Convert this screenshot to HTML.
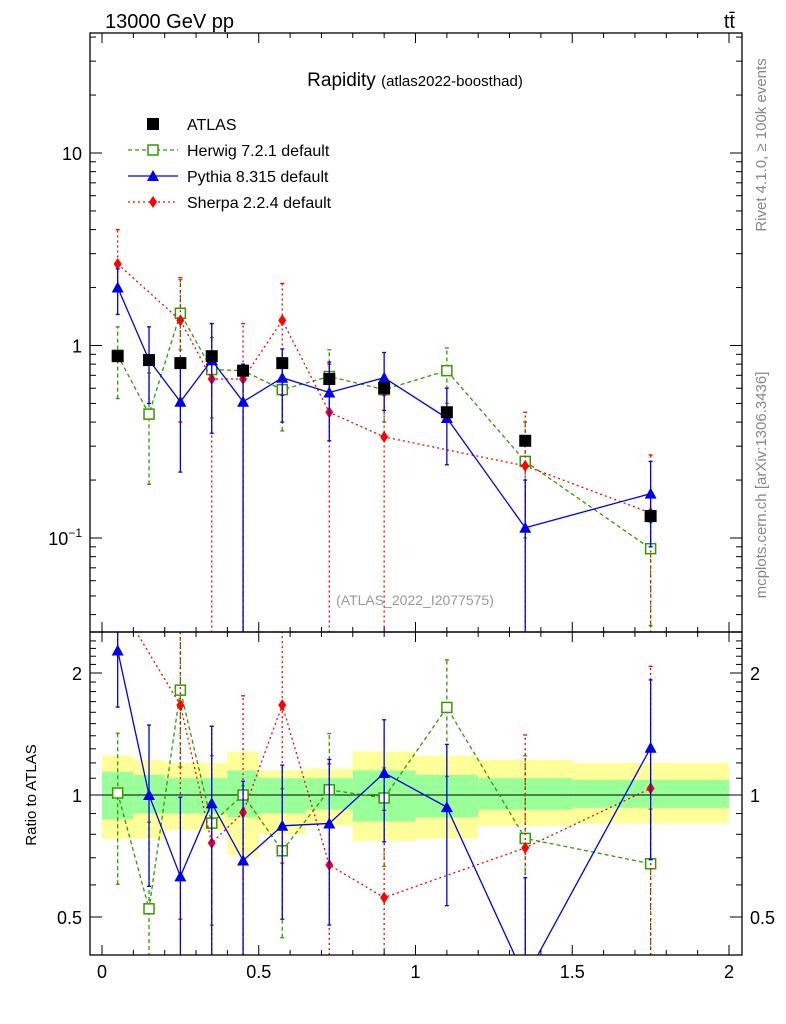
<!DOCTYPE html>
<html><head><meta charset="utf-8"><style>
html,body{margin:0;padding:0;background:#fff;width:786px;height:1024px;overflow:hidden;}
svg{display:block;font-family:"Liberation Sans",sans-serif;}
</style></head><body>
<svg id="c" width="786" height="1024" viewBox="0 0 786 1024">
<defs>
<clipPath id="cm"><rect x="90" y="33" width="652" height="599"/></clipPath>
<clipPath id="cr"><rect x="90" y="632" width="652" height="323"/></clipPath>
</defs>
<g id="bands" clip-path="url(#cr)"></g>
<g id="main" clip-path="url(#cm)"></g>
<g id="ratio" clip-path="url(#cr)"></g>
<g id="axes"></g>
<text x="105" y="28" font-size="20">13000 GeV pp</text>
<text x="735" y="28" font-size="20" text-anchor="end">tt̄</text>
<text x="415" y="86" font-size="19" text-anchor="middle">Rapidity <tspan font-size="15">(atlas2022-boosthad)</tspan></text>
<text x="415" y="605" font-size="14" fill="#999" text-anchor="middle">(ATLAS_2022_I2077575)</text>
<text transform="translate(766,145) rotate(-90)" font-size="15" fill="#888" text-anchor="middle">Rivet 4.1.0, ≥ 100k events</text>
<text transform="translate(766,485) rotate(-90)" font-size="15" fill="#888" text-anchor="middle">mcplots.cern.ch [arXiv:1306.3436]</text>
<text transform="translate(36,795) rotate(-90)" font-size="15" text-anchor="middle">Ratio to ATLAS</text>
<g id="legend"></g>
</svg>
<script>
const edges=[0,0.1,0.2,0.3,0.4,0.5,0.65,0.8,1.0,1.2,1.5,2.0];
const xs=[0.05,0.15,0.25,0.35,0.45,0.575,0.725,0.9,1.1,1.35,1.75];
const atlas=[0.88,0.84,0.81,0.88,0.74,0.81,0.67,0.60,0.45,0.32,0.13];
const herwig=[0.89,0.44,1.47,0.75,0.74,0.59,0.69,0.59,0.74,0.25,0.088];
const herwigLo=[0.53,0.19,0.95,0.42,0.02,0.36,0.45,0.4,0.5,0.1,0.035];
const herwigHi=[1.25,0.72,2.2,1.1,0.78,0.84,0.95,0.7,0.97,0.4,0.12];
const pythia=[2.0,0.84,0.51,0.84,0.51,0.68,0.57,0.68,0.42,0.113,0.17];
const pythiaLo=[1.45,0.5,0.22,0.35,0.02,0.4,0.32,0.46,0.24,0.02,0.09];
const pythiaHi=[2.5,1.25,0.8,1.3,0.8,0.96,0.82,0.92,0.6,0.2,0.25];
const sherpa=[2.65,null,1.35,0.67,0.67,1.35,0.45,0.335,null,0.237,0.135];
const sherpaLo=[2.0,null,0.4,0.02,0.02,0.55,0.02,0.02,null,0.02,0.02];
const sherpaHi=[4.0,null,2.25,1.3,1.3,2.1,0.8,0.55,null,0.45,0.27];
const yelHi=[1.25,1.22,1.2,1.2,1.28,1.15,1.16,1.28,1.25,1.22,1.2];
const yelLo=[0.78,0.78,0.82,0.82,0.71,0.8,0.84,0.77,0.78,0.84,0.85];
const grnHi=[1.14,1.12,1.1,1.1,1.15,1.1,1.1,1.15,1.12,1.1,1.09];
const grnLo=[0.87,0.9,0.9,0.9,0.88,0.9,0.92,0.86,0.88,0.92,0.93];
const xTicks=[0,0.5,1,1.5,2];
const xTickLabels=["0","0.5","1","1.5","2"];

const NS="http://www.w3.org/2000/svg";
const X=v=>102+v*313.5;
const clamp=(v,a,b)=>Math.max(a,Math.min(b,v));
const Y=v=>clamp(153-(Math.log10(v)-1)*192.5,0,1020);
const R=v=>clamp(795-Math.log2(v)*122,0,1020);
function mk(p,t,a){const e=document.createElementNS(NS,t);for(const k in a)e.setAttribute(k,a[k]);p.appendChild(e);return e;}
const G=id=>document.getElementById(id);

const bands=G('bands');
for(let i=0;i<xs.length;i++){
 const x0=X(edges[i]),w=X(edges[i+1])-x0;
 const y=mk(bands,'rect',{x:x0,y:R(yelHi[i]),width:w,height:R(yelLo[i])-R(yelHi[i]),fill:'#ffff99'});
 
 
 const g=mk(bands,'rect',{x:x0,y:R(grnHi[i]),width:w,height:R(grnLo[i])-R(grnHi[i]),fill:'#99ff99'});
 
 
}
mk(bands,'line',{x1:90,x2:742,y1:R(1),y2:R(1),stroke:'#000','stroke-width':1});

function marker(p,type,cx,cy,col){
 let e;
 if(type==='sq') e=mk(p,'rect',{x:cx-6,y:cy-6,width:12,height:12,fill:'#000'});
 else if(type==='osq') e=mk(p,'rect',{x:cx-5,y:cy-5,width:10,height:10,fill:'#fff',stroke:col,'stroke-width':1.5});
 else if(type==='tri') e=mk(p,'polygon',{points:`${cx},${cy-6} ${cx-6},${cy+5} ${cx+6},${cy+5}`,fill:col});
 else e=mk(p,'polygon',{points:`${cx},${cy-6} ${cx-4},${cy} ${cx},${cy+6} ${cx+4},${cy}`,fill:col});
 return e;
}
function series(p,F,vals,lo,hi,col,dash,type,name){
 const g=mk(p,'g',{});
 
 
 let pts=[];
 vals.forEach((v,i)=>{if(v!=null)pts.push(X(xs[i])+','+F(v));});
 if(pts.length)mk(g,'polyline',{points:pts.join(' '),fill:'none',stroke:col,'stroke-width':1.3,'stroke-dasharray':dash});
 vals.forEach((v,i)=>{
  if(v==null)return;
  const cx=X(xs[i]);
  if(lo){
   const y1=F(lo[i]),y2=F(hi[i]);
   mk(g,'line',{x1:cx,x2:cx,y1:y1,y2:y2,stroke:col,'stroke-width':1.3,'stroke-dasharray':dash});
   mk(g,'line',{x1:cx-2,x2:cx+2,y1:y1,y2:y1,stroke:col,'stroke-width':1.3});
   mk(g,'line',{x1:cx-2,x2:cx+2,y1:y2,y2:y2,stroke:col,'stroke-width':1.3});
  }
  const m=marker(g,type,cx,F(v),col);
  
  
 });
}
const main=G('main'),ratio=G('ratio');
const div=(a)=>a.map((v,i)=>v==null?null:v/atlas[i]);
series(main,Y,herwig,herwigLo,herwigHi,'#339900','4,3','osq','herwig-series');
series(main,Y,sherpa,sherpaLo,sherpaHi,'#ff0000','2,3','dia','sherpa-series');
series(main,Y,pythia,pythiaLo,pythiaHi,'#0000ee','','tri','pythia-series');
series(main,Y,atlas,null,null,'#000','0,10000','sq','atlas-series');
series(ratio,R,div(herwig),div(herwigLo),div(herwigHi),'#339900','4,3','osq','herwig-ratio');
series(ratio,R,div(sherpa),div(sherpaLo),div(sherpaHi),'#ff0000','2,3','dia','sherpa-ratio');
series(ratio,R,div(pythia),div(pythiaLo),div(pythiaHi),'#0000ee','','tri','pythia-ratio');

const ax=G('axes');
const fr1=mk(ax,'rect',{x:90,y:33,width:652,height:599,fill:'none',stroke:'#000','stroke-width':1.3});


const fr2=mk(ax,'rect',{x:90,y:632,width:652,height:323,fill:'none',stroke:'#000','stroke-width':1.3});


function tick(x1,y1,x2,y2){mk(ax,'line',{x1,y1,x2,y2,stroke:'#000','stroke-width':1});}
for(let t=0;t<=20;t++){
 const v=t/10,x=X(v),L=(t%5===0)?10:5;
 tick(x,33,x,33+L);tick(x,632,x,632-L);tick(x,632,x,632+L);tick(x,955,x,955-L);
}
xTicks.forEach((v,i)=>{const t=mk(ax,'text',{x:X(v),y:978,'font-size':18,'text-anchor':'middle'});t.textContent=xTickLabels[i];
 });
for(let d=-2;d<=1;d++)for(let m=1;m<10;m++){
 const v=m*Math.pow(10,d),y=153-(Math.log10(v)-1)*192.5;if(y<33||y>632)continue;
 const L=m===1?12:6;tick(90,y,90+L,y);tick(742,y,742-L,y);
}
[[10,'10'],[1,'1']].forEach(([v,l])=>{const t=mk(ax,'text',{x:82,y:Y(v)+7,'font-size':18,'text-anchor':'end'});t.textContent=l;
 });
{const t=mk(ax,'text',{x:82,y:Y(0.1)+7,'font-size':18,'text-anchor':'end'});t.innerHTML='10<tspan font-size="12" dy="-8">−1</tspan>';
 }
for(let v=0.4;v<=2.5;v+=0.1){const y=795-Math.log2(v)*122;if(y<632||y>955)continue;
 const maj=Math.abs(v-0.5)<1e-6||Math.abs(v-1)<1e-6||Math.abs(v-2)<1e-6;const L=maj?12:6;
 tick(90,y,90+L,y);tick(742,y,742-L,y);}
[[2,'2'],[1,'1'],[0.5,'0.5']].forEach(([v,l])=>{
 const t=mk(ax,'text',{x:82,y:R(v)+7,'font-size':18,'text-anchor':'end'});t.textContent=l;
 
 const t2=mk(ax,'text',{x:750,y:R(v)+7,'font-size':18});t2.textContent=l;
 });

const lg=G('legend');
const items=[['ATLAS','#000','0,10000','sq'],['Herwig 7.2.1 default','#339900','4,3','osq'],['Pythia 8.315 default','#0000ee','','tri'],['Sherpa 2.2.4 default','#ff0000','2,3','dia']];
items.forEach((it,i)=>{
 const y=124+i*26;const g=mk(lg,'g',{});
 
 
 if(i>0)mk(g,'line',{x1:128,x2:178,y1:y,y2:y,stroke:it[1],'stroke-width':1.3,'stroke-dasharray':it[2]});
 marker(g,it[3],153,y,it[1]);
 const t=mk(g,'text',{x:187,y:y+6,'font-size':16});t.textContent=it[0];
});
</script>
</body></html>
